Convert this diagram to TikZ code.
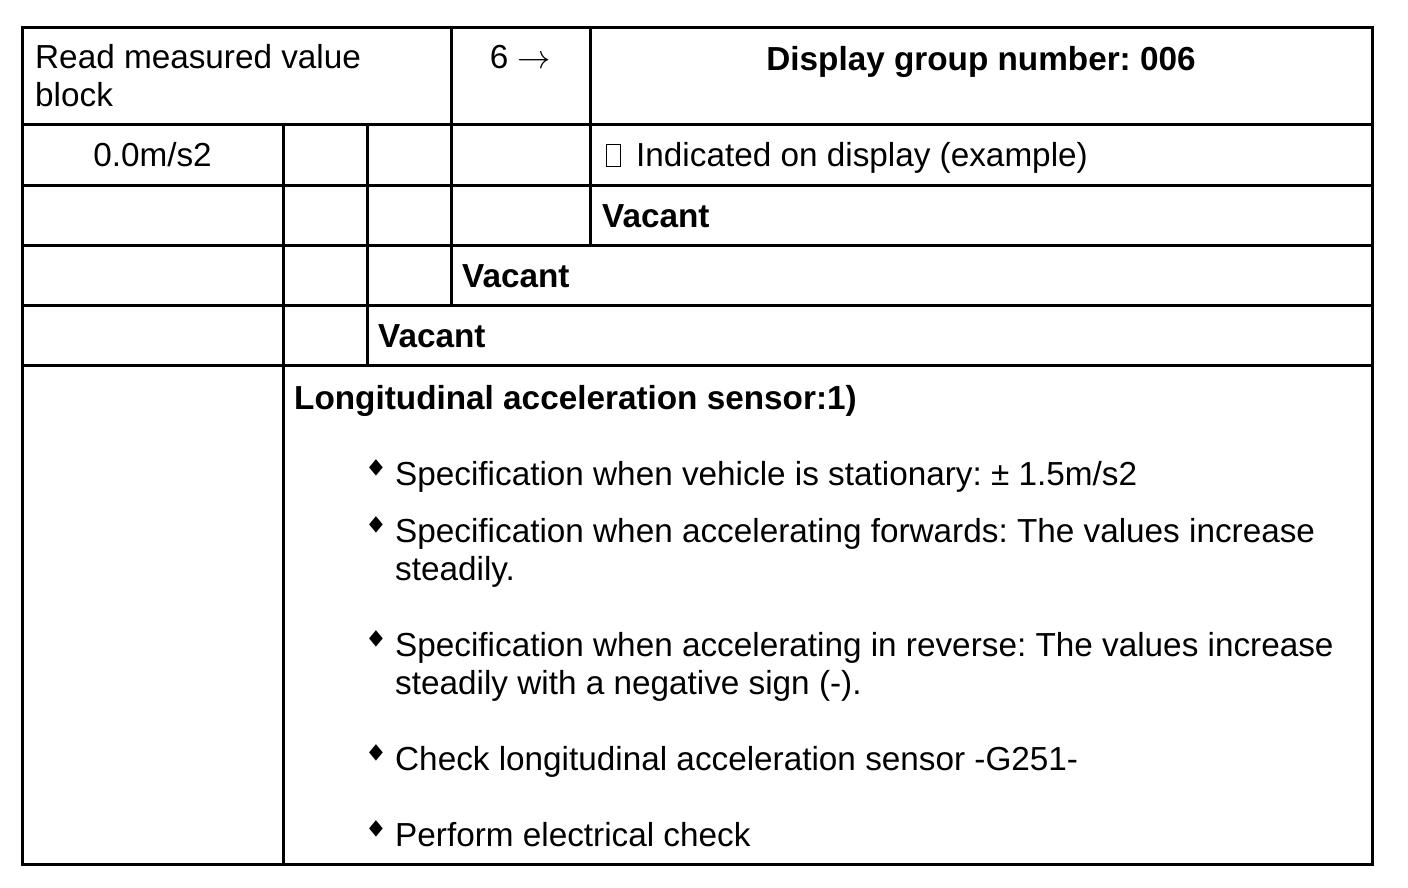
\RequirePackage{fix-cm}
\documentclass[tikz,border=0pt]{standalone}
\usepackage{fontspec}
\setmainfont{Liberation Sans}
\newfontfamily\symfont{DejaVu Sans}
\usepackage{tikz}
\usetikzlibrary{positioning}
\frenchspacing
\tikzstyle{gridline}=[line width=3pt]
\tikzstyle{celltext}=[anchor=base west,inner sep=0pt,align=left,font=\fontsize{33.3}{38}\selectfont]
\tikzstyle{midtext}=[celltext,anchor=base]
\tikzstyle{boldtext}=[celltext,font=\fontsize{33.3}{38}\selectfont\bfseries]
\tikzstyle{bulletmark}=[inner sep=0pt,yscale=1.2,font=\symfont\fontsize{18}{18}\selectfont]
\newcommand{\tofubox}{{\fboxsep=0pt\fboxrule=1pt\fbox{\rule{0pt}{21pt}\hspace{13pt}}}\hspace{15pt}}

\begin{document}
\begin{tikzpicture}[x=1pt,y=-1pt]
\useasboundingbox (0,0) rectangle (1408,888);

%Grid
    \draw[gridline] (22,28) rectangle (1372,864);
    \foreach \y in {125,185,245,305,365}
        \draw[gridline] (22,\y) -- (1372,\y);
    \foreach \x/\top/\bot in {283/125/864, 367/125/365, 451/28/305, 590/28/245}
        \draw[gridline] (\x,\top) -- (\x,\bot);

%Header (multi-line nodes sit on their last baseline)
    \node[celltext] (readblock) at (35,107) {Read measured value\\block};
    \node[midtext] (group) at (520.5,69) {6 $\rightarrow$};
    \node[boldtext,anchor=base] (title) at (981,71) {Display group number: 006};

%Fields
    \node[midtext] (value) at (152.5,166) {0.0m/s2};
    \node[celltext] (indicated) at (606,166) {\tofubox Indicated on display (example)};
    \foreach \x/\y/\name in {602/227/vacantA, 462/287/vacantB, 378/347/vacantC}
        \node[boldtext] (\name) at (\x,\y) {Vacant};

%Explanation
    \node[boldtext] (sensor) at (294,409) {Longitudinal acceleration sensor:1)};
    \foreach \y/\name in {485/spec, 542/fwd, 656/rev, 770/chk, 846/elec}
        \node[bulletmark] (b\name) at (376,\y-17) {◆};
    \node[celltext] (spec) at (395,485) {Specification when vehicle is stationary: ± 1.5m/s2};
    \node[celltext] (fwd) at (395,580) {Specification when accelerating forwards: The values increase\\steadily.};
    \node[celltext] (rev) at (395,694) {Specification when accelerating in reverse: The values increase\\steadily with a negative sign (-).};
    \node[celltext] (chk) at (395,770) {Check longitudinal acceleration sensor -G251-};
    \node[celltext] (elec) at (395,846) {Perform electrical check};

\end{tikzpicture}
\end{document}
